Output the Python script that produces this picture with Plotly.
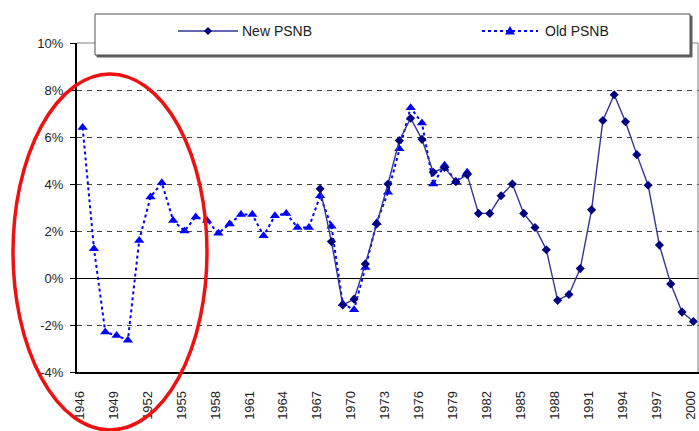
import plotly.graph_objects as go

# ---- data ----
old_years = list(range(1946, 1981))
old_psnb = [6.4, 1.25, -2.3, -2.45, -2.65, 1.6, 3.45, 4.05, 2.45, 2.0,
            2.6, 2.45, 1.9, 2.3, 2.7, 2.7, 1.8, 2.65, 2.75, 2.15,
            2.15, 3.5, 2.2, -1.1, -1.35, 0.45, 2.35, 3.65, 5.5, 7.25,
            6.6, 4.0, 4.8, 4.1, 4.5]
new_years = list(range(1967, 2001))
new_psnb = [3.8, 1.55, -1.15, -0.9, 0.6, 2.3, 4.0, 5.85, 6.8, 5.9,
            4.5, 4.7, 4.1, 4.4, 2.75, 2.75, 3.5, 4.0, 2.75, 2.15,
            1.2, -0.95, -0.7, 0.4, 2.9, 6.7, 7.8, 6.65, 5.25, 3.95,
            1.4, -0.25, -1.45, -1.85]
tick_years = list(range(1946, 2001, 3))
y_ticks = [-4, -2, 0, 2, 4, 6, 8, 10]
y_tick_labels = ["-4%", "-2%", "0%", "2%", "4%", "6%", "8%", "10%"]
series_names = ["New PSNB", "Old PSNB"]

# ---- geometry (pixels) ----
WIDTH, HEIGHT = 699, 431
L, R, T, B = 77, 699, 43, 372
PW, PH = R - L, B - T


def px(x):
    return (x - L) / PW


def py(y):
    return (B - y) / PH


FONT = "Liberation Sans, Arial, sans-serif"
NEW_LINE = "#34349a"
NEW_MARK = "#000080"
OLD_COL = "#0000ff"

fig = go.Figure()
fig.add_trace(go.Scatter(
    x=old_years, y=old_psnb, mode="lines+markers", name=series_names[1],
    line=dict(color=OLD_COL, width=2, dash="dot"),
    marker=dict(symbol="triangle-up", size=9, color=OLD_COL),
    showlegend=False))
fig.add_trace(go.Scatter(
    x=new_years, y=new_psnb, mode="lines+markers", name=series_names[0],
    line=dict(color=NEW_LINE, width=1.4),
    marker=dict(symbol="diamond", size=7, color=NEW_MARK),
    showlegend=False))

shapes = []
# top and right plot border
shapes.append(dict(type="line", xref="paper", yref="paper", x0=0, x1=px(698),
                   y0=1, y1=1, line=dict(color="#808080", width=1)))
shapes.append(dict(type="line", xref="paper", yref="paper", x0=px(698), x1=px(698),
                   y0=0, y1=1, line=dict(color="#808080", width=1)))
# legend box shadow + box
shapes.append(dict(type="rect", xref="paper", yref="paper",
                   x0=px(97), x1=px(692), y0=py(57), y1=py(16),
                   line=dict(color="#606060", width=1), fillcolor="#606060"))
shapes.append(dict(type="rect", xref="paper", yref="paper",
                   x0=px(95), x1=px(690), y0=py(55), y1=py(14),
                   line=dict(color="#505050", width=1), fillcolor="white"))
# legend glyphs
ly = 31
shapes.append(dict(type="line", xref="paper", yref="paper", x0=px(178), x1=px(238),
                   y0=py(ly), y1=py(ly), line=dict(color=NEW_LINE, width=1.4)))
d = 4
shapes.append(dict(type="path", xref="paper", yref="paper",
                   path=f"M{px(208-d)},{py(ly)} L{px(208)},{py(ly-d)} L{px(208+d)},{py(ly)} L{px(208)},{py(ly+d)} Z",
                   fillcolor=NEW_MARK, line=dict(color=NEW_MARK, width=0)))
shapes.append(dict(type="line", xref="paper", yref="paper", x0=px(482), x1=px(538),
                   y0=py(ly), y1=py(ly), line=dict(color=OLD_COL, width=2, dash="dot")))
shapes.append(dict(type="path", xref="paper", yref="paper",
                   path=f"M{px(505)},{py(ly+3.5)} L{px(515)},{py(ly+3.5)} L{px(510)},{py(ly-5)} Z",
                   fillcolor=OLD_COL, line=dict(color=OLD_COL, width=0)))
# red ellipse highlight
shapes.append(dict(type="circle", xref="paper", yref="paper",
                   x0=px(13), x1=px(207), y0=py(430), y1=py(74),
                   line=dict(color="#ee1111", width=3.5)))

annotations = [
    dict(text=series_names[0], xref="paper", yref="paper", x=px(240), y=py(ly),
         xanchor="left", yanchor="middle", showarrow=False,
         font=dict(family=FONT, size=14, color="#222")),
    dict(text=series_names[1], xref="paper", yref="paper", x=px(543), y=py(ly),
         xanchor="left", yanchor="middle", showarrow=False,
         font=dict(family=FONT, size=14, color="#222")),
]

fig.update_layout(
    width=WIDTH, height=HEIGHT,
    margin=dict(l=L, r=WIDTH - R, t=T, b=HEIGHT - B, pad=0, autoexpand=False),
    paper_bgcolor="white", plot_bgcolor="white",
    font=dict(family=FONT, size=13, color="#222"),
    shapes=shapes, annotations=annotations,
    xaxis=dict(range=[1945.5, 2000.5], tickmode="array", tickvals=tick_years,
               ticktext=[str(y) for y in tick_years], tickangle=-90,
               ticks="", showgrid=False, zeroline=False, automargin=False,
               showline=True, linecolor="black", linewidth=1.5,
               ticklabeloverflow="allow", ticklabelshift=-3,
               ticklabelstandoff=12, tickfont=dict(size=13)),
    xaxis2=dict(range=[1945.5, 2000.5], overlaying="x", anchor="free",
                position=py(278), side="bottom", tickmode="linear", tick0=1946,
                dtick=1, ticks="outside", ticklen=3, tickcolor="black",
                automargin=False,
                showticklabels=False, showgrid=False, zeroline=False, showline=False),
    yaxis=dict(range=[-4, 10], tickmode="array", tickvals=y_ticks,
               ticktext=y_tick_labels, automargin=False,
               ticks="outside", ticklen=5, tickcolor="black",
               showgrid=True, gridcolor="#444444", griddash="5px,5px", gridwidth=1.3,
               zeroline=True, zerolinecolor="black", zerolinewidth=1,
               showline=True, linecolor="black", linewidth=2,
               ticklabelstandoff=4, tickfont=dict(size=13)),
)

fig.write_html("out.html", config={"displayModeBar": False},
               post_script="document.body.style.margin='0';")
